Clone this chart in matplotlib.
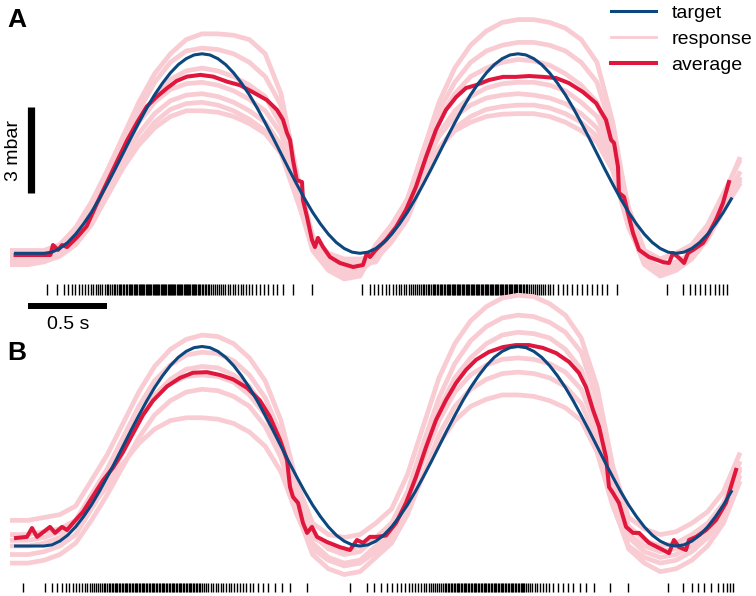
import numpy as np
import matplotlib
matplotlib.use("Agg")
import matplotlib.pyplot as plt

plt.rcParams['font.family'] = ['Liberation Sans', 'DejaVu Sans']

# colours
c_target = '#0d477f'
c_resp = '#f9cbd3'
c_avg = '#e0173d'

# target stimulus (mbar), sampled every 50 ms from t = 0
target_t0 = [-0.18, -0.05]
target_v0 = [0.0, 0.0]
target_v = [0.0, 0.04, 0.17, 0.38, 0.67, 1.03, 1.44, 1.91, 2.42, 2.95, 3.5, 4.05, 4.58, 5.09, 5.56, 5.97, 6.33, 6.62, 6.83, 6.96,
            7.0, 6.96, 6.83, 6.62, 6.33, 5.97, 5.56, 5.09, 4.58, 4.05, 3.5, 2.95, 2.42, 1.91, 1.44, 1.03, 0.67, 0.38, 0.17, 0.04,
            0.0, 0.04, 0.17, 0.38, 0.67, 1.03, 1.44, 1.91, 2.42, 2.95, 3.5, 4.05, 4.58, 5.09, 5.56, 5.97, 6.33, 6.62, 6.83, 6.96,
            7.0, 6.96, 6.83, 6.62, 6.33, 5.97, 5.56, 5.09, 4.58, 4.05, 3.5, 2.95, 2.42, 1.91, 1.44, 1.03, 0.67, 0.38, 0.17, 0.04,
            0.0, 0.04, 0.17, 0.38, 0.67, 1.03, 1.44, 1.91]

# single responses, sampled every 100 ms from t = -0.2 s
respA = [
    [-0.2, -0.2, -0.1, 0.3, 0.9, 1.8, 2.9, 4.1, 5.3, 6.3, 7.0, 7.5, 7.7, 7.7, 7.65, 7.5, 7.0, 5.6, 2.8, 0.3, -0.3, -0.5, -0.4,
     -0.3, 0.6, 1.8, 3.6, 5.3, 6.5, 7.3, 7.8, 8.1, 8.2, 8.2, 8.1, 7.9, 7.5, 6.7, 4.6, 1.4, -0.3, -0.6, -0.5, -0.1, 0.7, 2.0, 3.3],
    [0.0, 0.0, 0.05, 0.25, 0.7, 1.5, 2.6, 3.8, 5.0, 6.0, 6.7, 7.1, 7.2, 7.15, 7.0, 6.7, 6.2, 5.2, 2.8, 0.6, -0.1, -0.3, -0.3,
     0.0, 0.8, 1.9, 3.6, 5.0, 6.0, 6.7, 7.1, 7.3, 7.4, 7.4, 7.3, 7.1, 6.7, 6.0, 4.2, 1.6, 0.1, -0.2, 0.0, 0.3, 1.0, 2.1, 3.2],
    [-0.3, -0.3, -0.2, 0.1, 0.5, 1.2, 2.3, 3.5, 4.6, 5.5, 6.1, 6.4, 6.5, 6.4, 6.2, 5.9, 5.5, 4.5, 2.3, 0.2, -0.5, -0.8, -0.7,
     0.3, 1.0, 1.9, 3.4, 4.7, 5.6, 6.2, 6.5, 6.7, 6.8, 6.75, 6.6, 6.3, 5.9, 5.3, 3.8, 1.2, -0.2, -0.5, -0.3, 0.0, 0.8, 1.8, 2.8],
    [0.1, 0.1, 0.1, 0.3, 0.8, 1.6, 2.7, 3.7, 4.6, 5.3, 5.75, 5.95, 6.0, 5.9, 5.7, 5.4, 5.0, 4.2, 2.6, 0.6, 0.0, -0.2, -0.2,
     -0.1, 0.5, 1.4, 2.9, 4.2, 5.0, 5.5, 5.8, 5.95, 6.0, 6.0, 5.9, 5.7, 5.3, 4.8, 3.6, 1.3, 0.0, -0.2, 0.0, 0.2, 0.8, 1.7, 2.6],
    [-0.1, -0.1, 0.0, 0.2, 0.6, 1.3, 2.3, 3.3, 4.2, 4.9, 5.35, 5.55, 5.6, 5.5, 5.3, 5.0, 4.6, 3.8, 2.0, 0.1, -0.6, -0.9, -0.8,
     0.2, 0.8, 1.6, 3.0, 4.1, 4.8, 5.2, 5.45, 5.55, 5.6, 5.55, 5.45, 5.25, 4.9, 4.4, 3.3, 1.0, -0.4, -0.8, -0.6, -0.2, 0.5, 1.5, 2.4],
    [-0.4, -0.4, -0.3, -0.1, 0.3, 1.0, 2.0, 3.0, 3.9, 4.6, 5.05, 5.25, 5.3, 5.2, 5.0, 4.7, 4.3, 3.6, 2.2, 0.5, -0.3, -0.6, -0.6,
     -0.2, 0.4, 1.2, 2.6, 3.7, 4.4, 4.8, 5.05, 5.15, 5.2, 5.2, 5.1, 4.9, 4.6, 4.1, 3.1, 1.1, -0.2, -0.5, -0.4, 0.0, 0.6, 1.6, 2.6],
    [-0.2, -0.2, -0.1, 0.1, 0.5, 1.2, 2.1, 3.0, 3.8, 4.4, 4.8, 5.0, 5.0, 4.95, 4.8, 4.55, 4.2, 3.5, 1.9, 0.3, -0.4, -0.7, -0.6,
     0.1, 0.7, 1.5, 2.8, 3.7, 4.3, 4.6, 4.8, 4.88, 4.9, 4.9, 4.8, 4.6, 4.3, 3.9, 2.9, 0.9, -0.3, -0.7, -0.5, -0.1, 0.6, 1.6, 2.5],
]
respB = [
    [0.9, 0.9, 1.0, 1.1, 1.4, 2.3, 3.2, 4.3, 5.4, 6.3, 6.9, 7.25, 7.4, 7.35, 7.1, 6.6, 5.8, 4.4, 2.2, 0.8, 0.4, 0.3, 0.4,
     0.8, 1.3, 2.5, 4.2, 5.9, 7.1, 7.9, 8.4, 8.7, 8.8, 8.75, 8.5, 8.1, 7.3, 5.6, 2.8, 1.0, 0.6, 0.4, 0.5, 0.8, 1.2, 1.9, 3.2],
    [0.2, 0.2, 0.3, 0.5, 0.9, 1.8, 2.7, 3.8, 4.9, 5.8, 6.35, 6.7, 6.8, 6.75, 6.5, 6.0, 5.2, 3.9, 1.9, 0.4, -0.1, -0.3, -0.2,
     0.3, 0.8, 1.9, 3.6, 5.2, 6.4, 7.2, 7.7, 8.0, 8.1, 8.05, 7.85, 7.5, 6.8, 5.1, 2.4, 0.7, 0.2, 0.0, 0.1, 0.4, 0.8, 1.5, 2.9],
    [-0.3, -0.3, -0.2, 0.0, 0.4, 1.3, 2.2, 3.3, 4.4, 5.3, 5.85, 6.2, 6.3, 6.25, 6.0, 5.6, 4.8, 3.5, 1.5, 0.1, -0.4, -0.6, -0.5,
     0.0, 0.5, 1.6, 3.2, 4.8, 5.9, 6.6, 7.1, 7.4, 7.5, 7.45, 7.3, 6.9, 6.2, 4.6, 2.0, 0.3, -0.2, -0.4, -0.3, 0.0, 0.5, 1.2, 2.6],
    [0.4, 0.4, 0.5, 0.6, 0.9, 1.7, 2.5, 3.5, 4.5, 5.25, 5.7, 5.95, 6.0, 5.95, 5.75, 5.3, 4.6, 3.4, 1.5, 0.3, 0.0, -0.2, 0.0,
     0.2, 0.6, 1.6, 3.0, 4.4, 5.4, 6.0, 6.35, 6.55, 6.6, 6.55, 6.4, 6.1, 5.5, 4.1, 1.8, 0.4, 0.0, -0.2, -0.1, 0.2, 0.6, 1.3, 2.7],
    [-0.6, -0.6, -0.5, -0.3, 0.1, 0.9, 1.8, 2.8, 3.8, 4.6, 5.1, 5.4, 5.5, 5.45, 5.25, 4.9, 4.2, 3.1, 1.2, -0.3, -0.8, -1.0, -0.9,
     -0.4, 0.1, 1.1, 2.5, 3.9, 4.9, 5.5, 5.85, 6.05, 6.1, 6.05, 5.9, 5.6, 5.0, 3.7, 1.5, -0.1, -0.6, -0.9, -0.8, -0.5, 0.0, 0.8, 2.2],
    [0.0, 0.0, 0.1, 0.3, 0.7, 1.4, 2.1, 2.9, 3.6, 4.1, 4.4, 4.5, 4.5, 4.45, 4.3, 4.0, 3.5, 2.6, 1.1, -0.1, -0.5, -0.7, -0.6,
     -0.2, 0.3, 1.2, 2.5, 3.6, 4.4, 4.9, 5.15, 5.3, 5.3, 5.25, 5.1, 4.85, 4.4, 3.3, 1.4, 0.0, -0.4, -0.6, -0.5, -0.2, 0.3, 1.0, 2.4],
]

# average responses (time s, pressure mbar)
avgA_t = [-0.18, 0.04, 0.057, 0.089, 0.114, 0.146, 0.21, 0.27, 0.335, 0.40, 0.46, 0.525, 0.59, 0.65, 0.715, 0.78, 0.84,
          0.905, 0.99, 1.07, 1.16, 1.24, 1.32, 1.41, 1.475, 1.513, 1.538, 1.557, 1.576, 1.60, 1.633, 1.639, 1.665, 1.696,
          1.715, 1.734, 1.766, 1.81, 1.873, 1.956, 2.019, 2.044, 2.063, 2.10, 2.165, 2.228, 2.291, 2.354, 2.418, 2.481,
          2.544, 2.608, 2.671, 2.734, 2.816, 2.905, 2.987, 3.07, 3.158, 3.241, 3.323, 3.411, 3.494, 3.557, 3.589, 3.608,
          3.633, 3.639, 3.671, 3.696, 3.728, 3.766, 3.829, 3.918, 3.956, 3.981, 4.019, 4.051, 4.076, 4.108, 4.171, 4.209,
          4.253, 4.297, 4.335]
avgA_v = [-0.06, -0.06, 0.29, 0.12, 0.29, 0.22, 0.57, 0.95, 1.75, 2.5, 3.2, 3.95, 4.6, 5.15, 5.5, 5.8, 6.05,
          6.2, 6.26, 6.2, 6.02, 5.9, 5.66, 5.38, 5.03, 4.68, 4.22, 3.98, 3.27, 2.57, 2.5, 1.87, 1.27, 0.47,
          0.22, 0.54, 0.22, -0.13, -0.34, -0.48, -0.41, 0.01, -0.13, 0.12, 0.47, 0.92, 1.52, 2.33, 3.38, 4.33,
          5.03, 5.48, 5.8, 5.9, 6.08, 6.19, 6.19, 6.22, 6.19, 6.15, 5.97, 5.66, 5.27, 4.68, 3.98, 3.87,
          3.03, 2.12, 1.98, 1.41, 0.71, 0.12, -0.13, -0.31, -0.34, 0.01, -0.16, -0.34, 0.01, 0.12, 0.36, 0.71,
          1.17, 1.76, 2.5]
avgB_t = [-0.177, -0.108, -0.076, -0.044, 0.038, 0.07, 0.114, 0.146, 0.184, 0.247, 0.31, 0.373, 0.437, 0.5, 0.563,
          0.627, 0.69, 0.778, 0.861, 0.943, 1.032, 1.114, 1.196, 1.285, 1.367, 1.43, 1.494, 1.538, 1.557, 1.576, 1.608,
          1.639, 1.665, 1.696, 1.728, 1.791, 1.873, 1.937, 1.981, 2.019, 2.063, 2.108, 2.165, 2.228, 2.291, 2.354,
          2.418, 2.481, 2.544, 2.608, 2.671, 2.734, 2.816, 2.905, 2.987, 3.07, 3.158, 3.241, 3.323, 3.386, 3.43, 3.475,
          3.513, 3.557, 3.576, 3.601, 3.639, 3.684, 3.728, 3.766, 3.829, 3.918, 3.956, 3.987, 4.019, 4.063, 4.082,
          4.127, 4.19, 4.253, 4.316, 4.38]
avgB_v = [0.28, 0.32, 0.63, 0.32, 0.67, 0.46, 0.67, 0.56, 0.81, 1.2, 1.75, 2.3, 2.75, 3.3, 3.95,
          4.6, 5.1, 5.6, 5.9, 6.08, 6.1, 6.0, 5.85, 5.55, 5.1, 4.53, 3.72, 3.02, 2.07, 1.72, 1.51,
          0.81, 0.46, 0.67, 0.32, 0.14, -0.04, -0.14, 0.21, 0.11, 0.32, 0.32, 0.37, 0.81, 1.51, 2.42,
          3.47, 4.42, 5.12, 5.72, 6.18, 6.53, 6.81, 6.98, 7.05, 7.05, 6.95, 6.77, 6.46, 6.07, 5.58, 4.77,
          4.18, 3.12, 2.07, 1.86, 1.51, 0.67, 0.46, 0.46, 0.11, -0.14, -0.25, 0.21, -0.04, -0.14, 0.21,
          0.32, 0.56, 0.91, 1.51, 2.67]

# spike times (ms)
spikesA = [17, 80, 127, 152, 175, 198, 222, 242, 261, 279, 296, 312, 327, 342, 356, 370, 383, 396, 408, 420, 431, 442,
           452, 462, 472, 481, 490, 499, 508, 517, 526, 535, 544, 552, 560, 568, 576, 584, 591, 599, 607, 614, 622, 629,
           636, 644, 651, 658, 666, 673, 680, 687, 695, 702, 709, 716, 724, 731, 738, 745, 753, 760, 767, 774, 782, 789,
           796, 803, 811, 818, 825, 832, 840, 847, 854, 861, 869, 876, 883, 890, 898, 905, 912, 919, 927, 934, 941, 949,
           957, 965, 973, 981, 990, 998, 1007, 1016, 1026, 1036, 1047, 1058, 1070, 1082, 1094, 1107, 1120, 1134, 1148,
           1163, 1178, 1194, 1210, 1227, 1244, 1261, 1279, 1297, 1315, 1342, 1367, 1393, 1418, 1448, 1473, 1513, 1574,
           1694,
           2010, 2062, 2090, 2116, 2141, 2165, 2186, 2207, 2226, 2244, 2261, 2277, 2293, 2308, 2322, 2336, 2349, 2362,
           2374, 2386, 2397, 2408, 2419, 2429, 2439, 2449, 2459, 2468, 2477, 2486, 2495, 2504, 2513, 2522, 2531, 2540,
           2548, 2556, 2564, 2572, 2580, 2588, 2596, 2604, 2612, 2620, 2628, 2636, 2644, 2652, 2660, 2668, 2676, 2684,
           2692, 2700, 2708, 2716, 2724, 2732, 2740, 2748, 2756, 2764, 2772, 2780, 2788, 2796, 2804, 2812, 2820, 2828,
           2836, 2844, 2852, 2860, 2868, 2876, 2884, 2892, 2900, 2908, 2916, 2924, 2932, 2940, 2948, 2956, 2964, 2972,
           2980, 2988, 2996, 3004, 3013, 3022, 3031, 3040, 3050, 3060, 3071, 3082, 3094, 3106, 3118, 3131, 3144, 3158,
           3172, 3187, 3203, 3222, 3254, 3285, 3311, 3342, 3374, 3406, 3437, 3469, 3501, 3532, 3564, 3627,
           3944, 4045, 4089, 4121, 4153, 4184, 4216, 4248, 4273, 4298, 4323]
spikesB = [-131, 6, 49, 80, 112, 137, 160, 182, 203, 222, 241, 258, 274, 289, 303, 317, 330, 343, 355, 367, 378, 389,
           400, 410, 420, 429, 438, 447, 456, 465, 474, 483, 492, 501, 510, 519, 528, 537, 546, 555, 564, 573, 582, 591,
           600, 609, 618, 627, 636, 645, 654, 663, 672, 681, 690, 699, 708, 717, 726, 735, 744, 753, 762, 771, 780, 789,
           798, 807, 816, 825, 834, 843, 852, 861, 870, 879, 888, 897, 906, 915, 924, 933, 942, 951, 960, 969, 978, 988,
           1000, 1013, 1027, 1041, 1056, 1071, 1086, 1102, 1118, 1134, 1151, 1168, 1185, 1203, 1221, 1240, 1260, 1280,
           1301, 1323, 1355, 1386, 1418, 1462, 1507, 1557, 1665,
           1937, 2045, 2090, 2133, 2171, 2203, 2234, 2260, 2285, 2308, 2330, 2350, 2369, 2387, 2404, 2420, 2435, 2450,
           2464, 2477, 2490, 2502, 2514, 2525, 2536, 2546, 2556, 2566, 2575, 2584, 2593, 2602, 2611, 2620, 2629, 2638,
           2647, 2656, 2665, 2674, 2683, 2692, 2701, 2710, 2719, 2728, 2737, 2746, 2755, 2764, 2773, 2782, 2791, 2800,
           2809, 2818, 2827, 2836, 2845, 2854, 2863, 2872, 2881, 2890, 2899, 2908, 2917, 2926, 2935, 2944, 2953, 2962,
           2971, 2980, 2989, 2998, 3007, 3016, 3024, 3031, 3041, 3052, 3064, 3077, 3091, 3106, 3122, 3139, 3157, 3176,
           3198, 3222, 3254, 3285, 3317, 3349, 3390, 3430, 3480, 3580, 3697,
           3950, 4045, 4099, 4140, 4180, 4220, 4266, 4298, 4323, 4342, 4361]

t_target = np.concatenate([target_t0, np.arange(len(target_v)) * 0.05])
v_target = np.concatenate([target_v0, target_v])
t_resp = -0.2 + 0.1 * np.arange(len(respA[0]))

W, H = 756, 596
fig = plt.figure(figsize=(W / 100, H / 100), dpi=100)

# both panels span the whole figure; ylims put the baseline of each panel in place
px_s = 158.0      # pixels per second
px_mbar = 28.5    # pixels per mbar
x0 = 44.0         # pixel of t = 0
panels = [('A', 253.3, respA, avgA_t, avgA_v, spikesA, -1.27, 0.38),
          ('B', 546.0, respB, avgB_t, avgB_v, spikesB, -1.45, 0.32)]

axes = []
for name, base, resp, at, av, spk, off, ln in panels:
    ax = fig.add_axes([0, 0, 1, 1])
    ax.patch.set_alpha(0)
    ax.set_xlim(-x0 / px_s, (W - x0) / px_s)
    ax.set_ylim(base / px_mbar - H / px_mbar, base / px_mbar)
    ax.axis('off')
    for i, r in enumerate(resp):
        ax.plot(t_resp, r, color=c_resp, lw=3.4, solid_joinstyle='round', zorder=1,
                label='response' if i == 0 else None)
    ax.plot(at, av, color=c_avg, lw=2.9, zorder=2, label='average')
    ax.plot(t_target, v_target, color=c_target, lw=2.2, zorder=3, label='target')
    ax.eventplot(np.array(spk) / 1000.0, lineoffsets=off, linelengths=ln, colors='black', linewidths=1.0)
    axes.append(ax)

axA, axB = axes

# panel letters
fig.text(7 / W, 1 - 27 / H, 'A', fontsize=19, fontweight='bold')
fig.text(7 / W, 1 - 360 / H, 'B', fontsize=19, fontweight='bold')

# scale bars
axA.plot([-0.085, -0.085], [2.12, 5.12], color='black', lw=5.2, solid_capstyle='butt', clip_on=False)
axA.text(-0.19, 3.62, '3 mbar', rotation=90, ha='center', va='center', fontsize=14)
axA.plot([-0.1, 0.4], [-1.85, -1.85], color='black', lw=4.3, solid_capstyle='butt', clip_on=False)
axA.text(0.15, -2.5, '0.5 s', ha='center', va='center', fontsize=14)

# legend
h, l = axA.get_legend_handles_labels()
order = [l.index('target'), l.index('response'), l.index('average')]
leg = fig.legend([h[i] for i in order], [l[i] for i in order], loc='upper right', bbox_to_anchor=(1.0, 1.0),
                 frameon=False, fontsize=14, handlelength=2.3, handletextpad=0.8, labelspacing=0.45,
                 borderpad=0.2, borderaxespad=0.0)
leg.get_lines()[1].set_linewidth(2.0)

fig.savefig('out.png', dpi=100)
